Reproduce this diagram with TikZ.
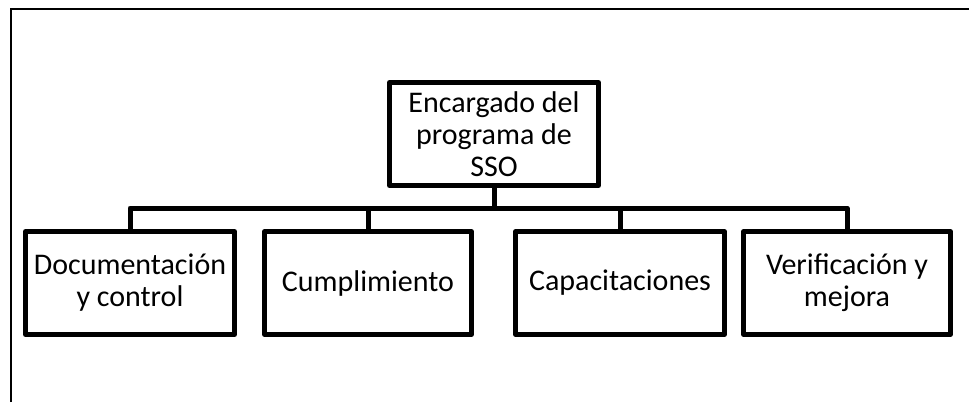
\documentclass[tikz,border=0pt]{standalone}
\usepackage{fontspec}
\setmainfont{Carlito}
\begin{document}
\begin{tikzpicture}[x=1pt,y=-1pt,
  box/.style={draw, line width=5pt, minimum height=103pt, align=center, inner sep=0pt,
    font=\fontsize{30}{32}\selectfont, line join=round},
  conn/.style={line width=5pt, line join=round}]
\useasboundingbox (0,0) rectangle (969,402);
\coordinate (fa) at (10.5,402);
\coordinate (fb) at (10.5,8.5);
\coordinate (fc) at (969,8.5);
\draw[line width=2pt] (fa) -- (fb) -- (fc);
\node[box, minimum width=209pt] (top) at (494,134) {Encargado del\\programa de\\SSO};
\node[box, minimum width=209pt] (b1) at (130,283) {Documentación\\y control};
\node[box, minimum width=206.5pt] (b2) at (368,283) {Cumplimiento};
\node[box, minimum width=208.5pt] (b3) at (620,283) {Capacitaciones};
\node[box, minimum width=206.5pt] (b4) at (847,283) {Verificación y\\mejora};
\coordinate (bus) at (0,208);
\draw[conn] (top.south) -- (top.south |- bus);
\draw[conn] (b1.north) -- (b1.north |- bus) -- (b4.north |- bus) -- (b4.north);
\draw[conn] (b2.north) -- (b2.north |- bus);
\draw[conn] (b3.north) -- (b3.north |- bus);
\end{tikzpicture}
\end{document}
